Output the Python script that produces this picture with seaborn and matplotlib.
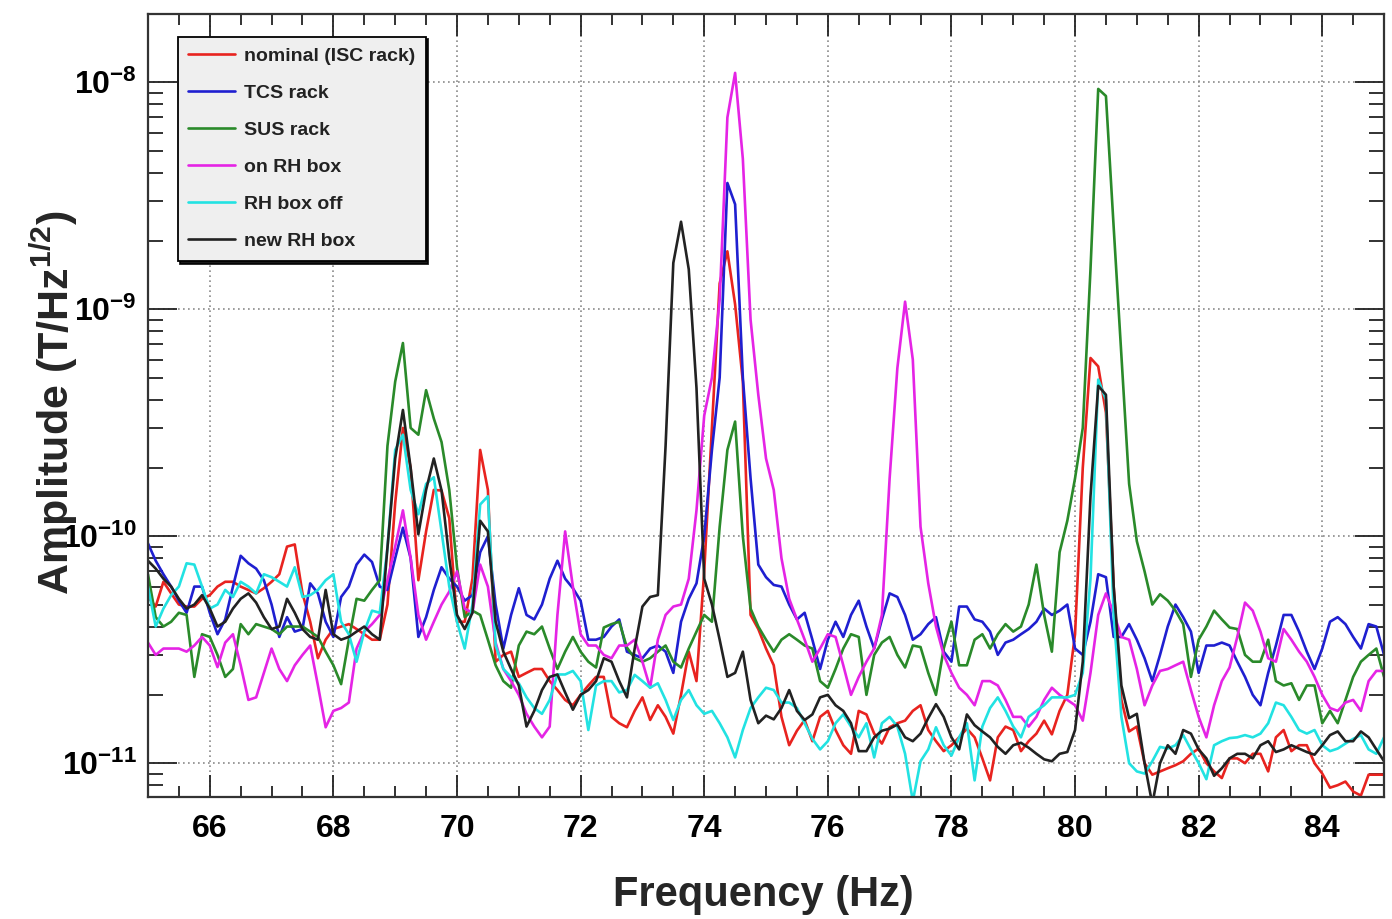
import numpy as np
import pandas as pd
import matplotlib
matplotlib.use("Agg")
import matplotlib.pyplot as plt
import seaborn as sns
from matplotlib.ticker import MultipleLocator, FuncFormatter, NullFormatter, LogLocator

# Frequency bins (Hz), 0.125 Hz resolution
freq = np.linspace(65.0, 85.0, 161)
AMP_UNIT = 1e-11  # values below are in units of 1e-11 T/Hz^1/2

# one row per Hz (8 bins), last value at 85 Hz
nominal = [
    5.4, 4.9, 6.3, 5.6, 5.0, 4.9, 4.9, 5.3,
    5.5, 6.0, 6.3, 6.3, 6.0, 5.8, 5.6, 5.9,
    6.3, 6.8, 9.0, 9.2, 5.6, 4.2, 2.9, 3.5,
    3.9, 4.0, 4.1, 3.9, 3.7, 3.5, 3.5, 5.0,
    14, 30, 20, 6.4, 10.5, 16, 15.9, 12,
    4.2, 4.2, 6.5, 24, 16, 2.8, 3.0, 3.1,
    2.4, 2.5, 2.6, 2.6, 2.3, 2.1, 1.9, 1.8,
    2.0, 2.2, 2.4, 2.4, 1.6, 1.5, 1.44, 1.7,
    1.95, 1.55, 1.8, 1.6, 1.35, 2.0, 3.1, 2.3,
    7.0, 30, 130, 180, 105, 48, 4.5, 3.9,
    3.2, 2.7, 1.6, 1.2, 1.39, 1.55, 1.25, 1.6,
    1.7, 1.4, 1.2, 1.1, 1.7, 1.64, 1.35, 1.22,
    1.44, 1.5, 1.54, 1.7, 1.8, 1.4, 1.25, 1.13,
    1.2, 1.3, 1.42, 1.3, 1.05, 0.84, 1.3, 1.45,
    1.4, 1.13, 1.25, 1.35, 1.54, 1.34, 1.7, 2.0,
    3.7, 20, 61, 56, 35, 6.0, 1.9, 1.38,
    1.45, 1.0, 0.89, 0.92, 0.95, 0.98, 1.02, 1.1,
    1.16, 1.0, 0.92, 0.86, 1.05, 1.05, 1.0, 1.1,
    1.1, 0.92, 1.3, 1.4, 1.13, 1.2, 1.2, 1.0,
    0.9, 0.78, 0.8, 0.83, 0.75, 0.72, 0.89, 0.89,
    0.89]

tcs = [
    9.3, 7.8, 6.8, 6.0, 5.2, 4.6, 6.0, 6.0,
    4.6, 3.7, 4.3, 6.0, 8.2, 7.6, 7.2, 6.4,
    5.0, 3.6, 4.4, 3.8, 3.9, 6.2, 5.6, 4.2,
    3.6, 5.4, 6.0, 7.5, 8.3, 7.7, 6.0, 5.8,
    8.0, 10.9, 8.0, 3.6, 4.4, 5.8, 7.3, 6.5,
    6.0, 5.2, 5.5, 8.5, 10.0, 5.0, 3.2, 4.5,
    5.9, 4.5, 4.3, 5.0, 6.5, 7.8, 6.5, 5.9,
    5.2, 3.5, 3.5, 3.6, 4.0, 4.3, 3.1, 3.0,
    2.9, 3.2, 3.3, 3.1, 2.5, 4.2, 5.3, 6.2,
    10, 24, 50, 360, 290, 50, 18, 7.5,
    6.6, 6.1, 6.0, 5.0, 4.3, 4.6, 3.5, 2.6,
    3.5, 4.2, 3.6, 4.5, 5.2, 4.0, 3.2, 4.3,
    5.6, 5.4, 4.5, 3.5, 3.7, 4.1, 4.4, 3.1,
    2.8, 4.9, 4.9, 4.3, 4.2, 3.8, 3.0, 3.4,
    3.5, 3.7, 3.9, 4.2, 4.8, 4.5, 4.7, 5.0,
    3.2, 3.0, 4.2, 6.8, 6.6, 3.6, 3.6, 4.1,
    3.5, 2.9, 2.3, 3.0, 4.0, 5.0, 4.4, 3.8,
    2.5, 3.3, 3.3, 3.4, 3.3, 2.8, 2.4, 2.0,
    1.8, 2.5, 3.3, 4.5, 4.5, 3.8, 3.1, 2.6,
    3.2, 4.2, 4.4, 4.1, 3.6, 3.2, 4.1, 4.0,
    3.0]

sus = [
    6.8, 4.4, 4.0, 4.2, 4.6, 4.5, 2.4, 3.7,
    3.6, 3.0, 2.4, 2.6, 4.1, 3.7, 4.1, 4.0,
    3.9, 3.7, 4.0, 4.0, 4.0, 3.8, 3.6, 3.1,
    2.7, 2.23, 3.5, 5.3, 5.2, 5.8, 6.4, 25,
    48, 71, 30, 28, 44, 33, 26, 16,
    7.3, 4.4, 4.7, 4.5, 3.5, 2.7, 2.3, 2.15,
    3.3, 3.8, 3.7, 4.0, 3.2, 2.6, 3.1, 3.6,
    3.1, 2.8, 2.64, 3.96, 4.1, 4.2, 3.23, 2.9,
    2.8, 2.9, 3.1, 3.3, 2.8, 2.64, 3.2, 3.8,
    4.5, 4.2, 11, 24, 32, 10, 4.8, 4.0,
    3.5, 3.1, 3.5, 3.7, 3.5, 3.3, 3.2, 2.3,
    2.15, 2.6, 3.2, 3.7, 3.6, 2.0, 3.0, 3.4,
    3.6, 3.0, 2.64, 3.3, 3.25, 2.5, 2.0, 3.2,
    4.2, 2.7, 2.7, 3.5, 3.7, 3.2, 3.7, 4.1,
    3.8, 4.0, 5.0, 7.5, 4.5, 3.1, 8.5, 11.7,
    18, 30, 150, 935, 870, 230, 62, 17,
    9.5, 7.0, 5.0, 5.55, 5.2, 4.7, 4.1, 2.4,
    3.5, 4.0, 4.7, 4.3, 3.96, 3.9, 3.0, 2.8,
    2.8, 3.5, 2.3, 2.2, 2.25, 1.9, 2.2, 2.2,
    1.5, 1.7, 1.5, 1.9, 2.4, 2.8, 3.0, 3.2,
    2.4]

on_rh = [
    3.4, 3.0, 3.2, 3.2, 3.2, 3.1, 3.3, 3.6,
    3.3, 2.65, 3.4, 3.7, 2.7, 1.9, 1.95, 2.5,
    3.2, 2.6, 2.3, 2.7, 3.0, 3.3, 2.2, 1.44,
    1.7, 1.75, 1.85, 3.2, 3.8, 4.1, 4.5, 6.4,
    9.0, 13, 8.0, 4.5, 3.5, 4.2, 5.0, 5.7,
    7.0, 4.8, 4.6, 7.5, 6.0, 3.4, 2.6, 2.3,
    2.0, 1.65, 1.45, 1.3, 1.45, 4.5, 10.5, 6.0,
    3.7, 3.3, 3.3, 3.0, 2.9, 3.3, 3.3, 3.5,
    2.8, 2.15, 3.5, 4.5, 4.9, 5.0, 6.5, 13,
    34, 50, 110, 700, 1100, 460, 90, 42,
    22, 16, 8.0, 5.3, 4.3, 3.5, 2.8, 3.2,
    3.7, 3.6, 2.7, 2.0, 2.4, 2.8, 3.2, 4.5,
    18, 55, 108, 60, 11, 6.2, 4.0, 3.0,
    2.5, 2.15, 2.0, 1.8, 2.3, 2.3, 2.2, 1.9,
    1.6, 1.6, 1.45, 1.6, 1.9, 2.15, 2.0, 1.9,
    1.8, 1.54, 2.5, 4.5, 5.6, 4.6, 3.6, 3.5,
    2.6, 1.8, 2.2, 2.55, 2.6, 2.7, 2.8, 2.1,
    1.6, 1.3, 1.8, 2.3, 2.64, 3.6, 5.1, 4.7,
    3.8, 2.9, 2.8, 3.9, 3.5, 3.1, 2.8, 2.4,
    2.0, 1.75, 1.7, 1.85, 1.9, 1.7, 2.3, 2.55,
    2.55]

rh_off = [
    6.0, 4.0, 4.8, 5.5, 6.0, 7.6, 7.5, 6.0,
    4.8, 5.0, 5.8, 5.4, 6.3, 6.0, 5.6, 6.8,
    6.6, 6.3, 6.0, 7.3, 5.4, 5.5, 5.8, 6.4,
    6.8, 4.2, 3.7, 2.8, 3.8, 4.7, 4.6, 8.9,
    24, 28, 16, 12.5, 17, 18.2, 10.5, 6.0,
    4.2, 3.2, 5.0, 13.8, 15, 3.3, 2.6, 2.4,
    2.25, 1.95, 1.75, 1.65, 1.9, 2.46, 2.46, 2.55,
    2.3, 1.4, 2.2, 2.3, 2.3, 2.05, 2.1, 2.45,
    2.3, 2.15, 2.25, 1.9, 1.55, 1.9, 2.1, 1.8,
    1.65, 1.7, 1.5, 1.3, 1.06, 1.4, 1.75, 1.95,
    2.15, 2.1, 1.85, 1.85, 1.75, 1.5, 1.28, 1.15,
    1.25, 1.5, 1.64, 1.45, 1.3, 1.5, 1.06, 1.5,
    1.6, 1.45, 1.1, 0.68, 1.02, 1.15, 1.44, 1.2,
    1.08, 1.3, 1.5, 0.84, 1.45, 1.75, 1.95, 1.7,
    1.45, 1.3, 1.6, 1.7, 1.8, 1.95, 1.95, 1.95,
    2.0, 2.5, 6.5, 49, 40, 4.5, 1.6, 1.0,
    0.92, 0.9, 1.02, 1.18, 1.16, 1.2, 1.33, 1.15,
    1.0, 0.85, 1.2, 1.25, 1.29, 1.3, 1.33, 1.3,
    1.35, 1.5, 1.85, 1.8, 1.6, 1.4, 1.35, 1.4,
    1.2, 1.13, 1.16, 1.22, 1.28, 1.33, 1.15, 1.1,
    1.3]

new_rh = [
    7.8, 7.2, 6.5, 6.0, 5.3, 4.8, 5.0, 5.5,
    4.8, 4.0, 4.2, 4.8, 5.3, 5.6, 5.1, 4.4,
    3.9, 4.0, 5.3, 4.6, 3.9, 3.6, 3.5, 5.8,
    3.7, 3.5, 3.6, 3.8, 4.0, 3.7, 3.5, 8.9,
    22, 36, 20, 10.2, 16, 22, 15.9, 8.0,
    4.5, 3.9, 4.6, 11.7, 10.5, 4.2, 3.1, 2.6,
    2.2, 1.45, 1.7, 2.1, 2.4, 2.46, 2.05, 1.72,
    2.0, 2.1, 2.3, 2.9, 2.8, 2.3, 1.95, 3.2,
    4.9, 5.4, 5.5, 25, 160, 243, 150, 45,
    6.5, 5.0, 3.5, 2.4, 2.5, 3.1, 1.9, 1.5,
    1.62, 1.56, 1.75, 2.1, 1.7, 1.55, 1.64, 1.95,
    2.0, 1.8, 1.7, 1.5, 1.13, 1.13, 1.3, 1.39,
    1.42, 1.48, 1.3, 1.25, 1.35, 1.58, 1.82, 1.6,
    1.3, 1.15, 1.64, 1.47, 1.38, 1.3, 1.18, 1.1,
    1.2, 1.23, 1.17, 1.1, 1.04, 1.02, 1.1, 1.12,
    1.4, 2.8, 15, 46, 42, 6.0, 2.2, 1.58,
    1.65, 1.0, 0.66, 1.0, 1.2, 1.1, 1.4, 1.35,
    1.15, 1.05, 0.88, 0.95, 1.05, 1.1, 1.1, 1.05,
    1.2, 1.25, 1.12, 1.15, 1.2, 1.16, 1.12, 1.09,
    1.2, 1.33, 1.38, 1.25, 1.25, 1.38, 1.3, 1.15,
    1.02]

labels = ["nominal (ISC rack)", "TCS rack", "SUS rack",
          "on RH box", "RH box off", "new RH box"]
colors = ["#e8231f", "#1f1fd0", "#2a8a2a", "#e524e5", "#22e2e2", "#222222"]
series = [nominal, tcs, sus, on_rh, rh_off, new_rh]

sns.set_theme(style="ticks")
plt.rcParams["font.family"] = ["Liberation Sans", "DejaVu Sans"]
plt.rcParams["font.weight"] = "bold"
plt.rcParams["mathtext.fontset"] = "custom"
plt.rcParams["mathtext.rm"] = "Liberation Sans:bold"
plt.rcParams["mathtext.bf"] = "Liberation Sans:bold"
plt.rcParams["mathtext.default"] = "bf"

fig = plt.figure(figsize=(13.92, 9.19), dpi=100)
ax = fig.add_axes([0.1063, 0.1328, 0.888, 0.852])

for vals, lab, col in zip(series, labels, colors):
    df = pd.DataFrame({"freq": freq, "amp": np.array(vals) * AMP_UNIT})
    sns.lineplot(data=df, x="freq", y="amp", color=col, lw=1.9, label=lab, ax=ax)

ax.set_yscale("log")
ax.set_xlim(65, 85)
ax.set_ylim(7.1e-12, 2.0e-8)

ax.xaxis.set_major_locator(MultipleLocator(2))
ax.xaxis.set_minor_locator(MultipleLocator(0.5))
ax.yaxis.set_major_locator(LogLocator(base=10))
ax.yaxis.set_minor_locator(LogLocator(base=10, subs=np.arange(2, 10)))
ax.yaxis.set_major_formatter(FuncFormatter(lambda v, p: r"$\mathbf{10^{%d}}$" % round(np.log10(v))))
ax.yaxis.set_minor_formatter(NullFormatter())

ax.tick_params(which="both", direction="in", top=True, right=True, width=1.3, colors="#222222")
ax.tick_params(axis="x", which="major", length=16, pad=12, labelsize=23)
ax.tick_params(axis="x", which="minor", length=8)
ax.tick_params(axis="y", which="major", length=21, pad=8, labelsize=23)
ax.tick_params(axis="y", which="minor", length=11)
for lab in ax.get_xticklabels() + ax.get_yticklabels():
    lab.set_fontweight("bold")
    lab.set_color("black")

ax.grid(True, which="major", ls=(0, (1, 2)), color="#8a8a8a", lw=1.2)
for sp in ax.spines.values():
    sp.set_linewidth(1.6)
    sp.set_color("#333333")

ax.set_xlabel("Frequency (Hz)", fontsize=30, fontweight="bold")
ax.set_ylabel(r"Amplitude (T/Hz$^{1/2}$)", fontsize=31, fontweight="bold")
ax.xaxis.set_label_coords(0.4976, -0.10)
ax.yaxis.set_label_coords(-0.055, 0.504)

leg = ax.legend(loc="upper left", bbox_to_anchor=(0.024, 0.971), borderaxespad=0,
                fontsize=14, frameon=True, fancybox=False,
                shadow={"color": "black", "alpha": 0.9},
                handlelength=2.4, handletextpad=0.45, labelspacing=1.0,
                borderpad=0.55)
leg.get_frame().set_facecolor("#efefef")
leg.get_frame().set_edgecolor("black")
leg.get_frame().set_linewidth(1.3)
leg.get_frame().set_alpha(1)
for t in leg.get_texts():
    t.set_fontweight("bold")
    t.set_color("#222222")

fig.savefig("out.png", dpi=100)
